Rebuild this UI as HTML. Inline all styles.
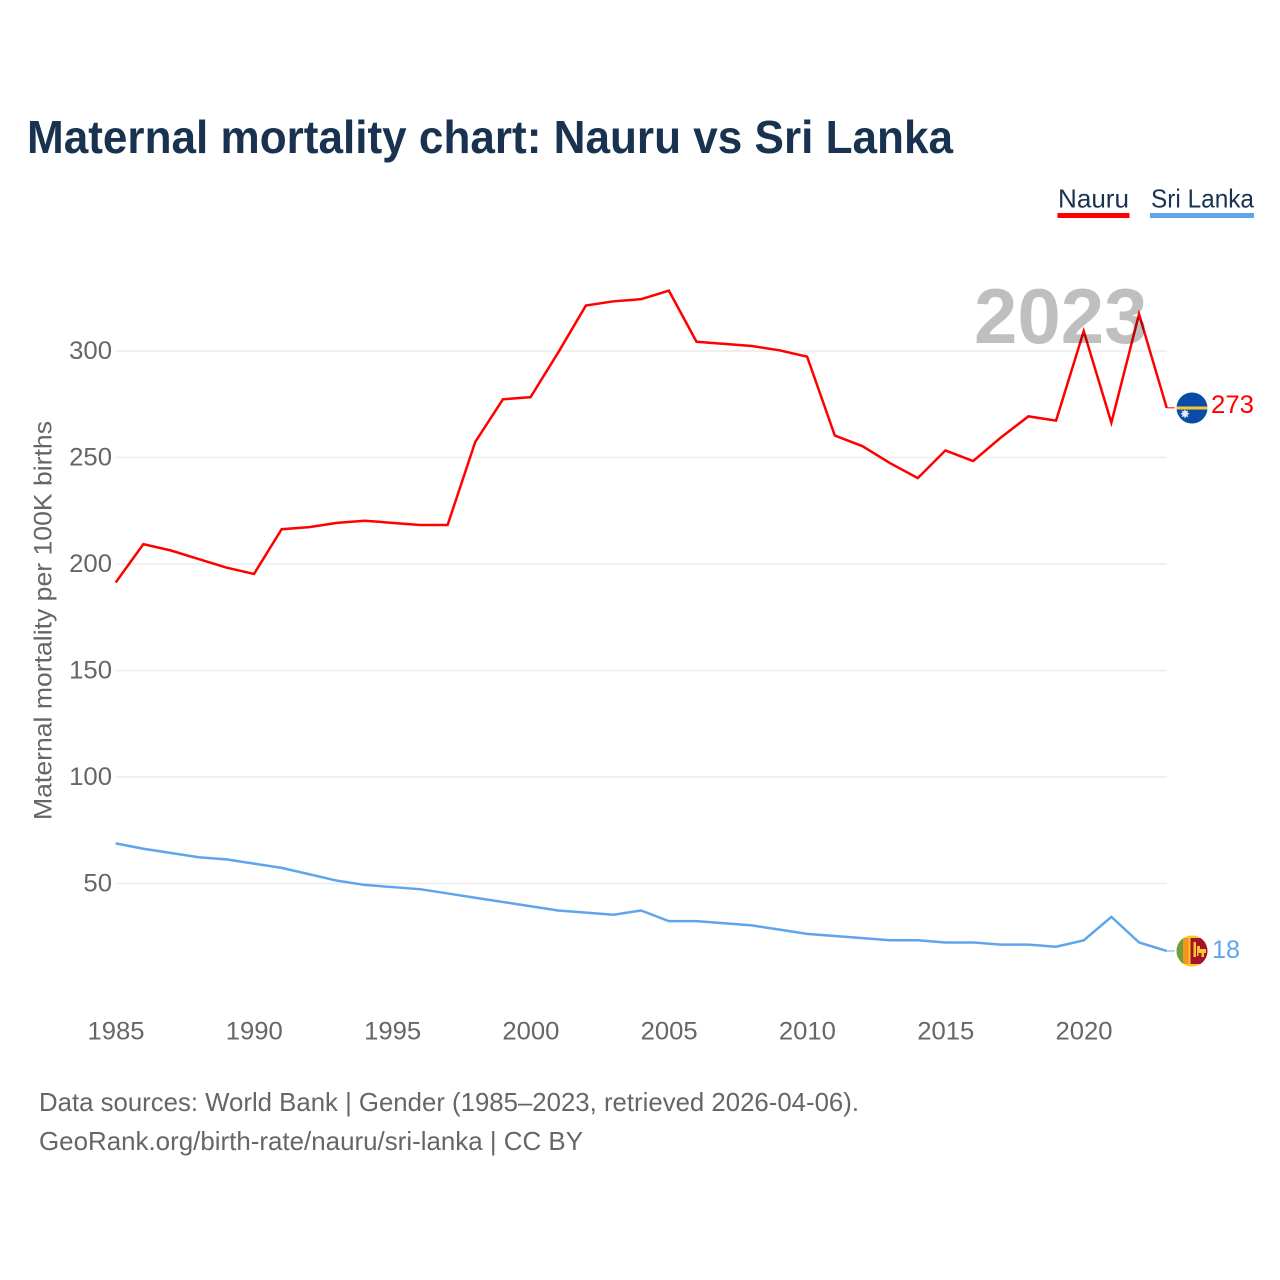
<!DOCTYPE html>
<html lang="en">
<head>
<meta charset="utf-8">
<title>Maternal mortality chart: Nauru vs Sri Lanka</title>
<style>
html,body{margin:0;padding:0;background:#fff;}
svg{display:block;font-family:"Liberation Sans",sans-serif;}
</style>
</head>
<body>
<svg id="chart" xmlns="http://www.w3.org/2000/svg" width="1280" height="1280" viewBox="0 0 1280 1280">
  <defs>
    <clipPath id="nauru-clip"><circle cx="1192" cy="408" r="15.5"/></clipPath>
    <clipPath id="srilanka-clip"><circle cx="1192" cy="951" r="15.5"/></clipPath>
  </defs>
  <rect x="0" y="0" width="1280" height="1280" fill="#fff"/>
  <text x="27" y="153" font-size="46" font-weight="700" fill="#18324f" textLength="926" lengthAdjust="spacingAndGlyphs">Maternal mortality chart: Nauru vs Sri Lanka</text>
  <g>
    <text x="1058" y="207.500" font-size="26" fill="#18324f" textLength="71" lengthAdjust="spacingAndGlyphs">Nauru</text>
    <rect x="1057.500" y="213" width="72" height="5" fill="#ff0000"/>
  </g>
  <g>
    <text x="1151" y="207.500" font-size="26" fill="#18324f" textLength="103" lengthAdjust="spacingAndGlyphs">Sri Lanka</text>
    <rect x="1150" y="213" width="104" height="5" fill="#5ea5ee"/>
  </g>
  <g id="grid"></g>
  <g id="y-ticks"></g>
  <g id="x-ticks"></g>
  <text transform="translate(51.500 820) rotate(-90)" x="0" y="0" font-size="25" fill="#666" textLength="399" lengthAdjust="spacingAndGlyphs">Maternal mortality per 100K births</text>
  <g id="series" transform="translate(-0.3 -0.7)"></g>
  <text x="974" y="343" font-size="78" font-weight="700" fill="#000" fill-opacity="0.25">2023</text>

  <g clip-path="url(#nauru-clip)">
    <rect x="1176" y="392" width="32" height="32" fill="#0a4ba8"/>
    <rect x="1176" y="406.500" width="32" height="3" fill="#f5c830"/>
    <path d="M1185 409l1 2.400 2.400-1-1 2.400 2.400 1-2.400 1 1 2.400-2.400-1-1 2.400-1-2.400-2.400 1 1-2.400-2.400-1 2.400-1-1-2.400 2.400 1z" fill="#e8eef8"/>
  </g>
  <g clip-path="url(#srilanka-clip)">
    <rect x="1176" y="935" width="32" height="32" fill="#f7c52e"/>
    <rect x="1176" y="938" width="7" height="26" fill="#6f9e3a"/>
    <rect x="1183" y="938" width="5.500" height="26" fill="#f7931a"/>
    <rect x="1190.500" y="938" width="17" height="26" fill="#a5122a"/>
    <path d="M1193.500 942h2.500v15h-2.500zM1197 946h3v3h6v4h-2v4h-2.500v-4h-3v3h-1.500z" fill="#f7c52e"/>
  </g>
  <text x="1211" y="413" font-size="25" fill="#ff0000" textLength="43" lengthAdjust="spacingAndGlyphs">273</text>
  <text x="1212" y="958" font-size="25" fill="#5ea5ee" textLength="28" lengthAdjust="spacingAndGlyphs">18</text>

  <text x="39" y="1111" font-size="26" fill="#666" textLength="820" lengthAdjust="spacingAndGlyphs">Data sources: World Bank | Gender (1985–2023, retrieved 2026-04-06).</text>
  <text x="39" y="1150" font-size="26" fill="#666" textLength="544" lengthAdjust="spacingAndGlyphs">GeoRank.org/birth-rate/nauru/sri-lanka | CC BY</text>
</svg>
<script>
const years = [1985,1986,1987,1988,1989,1990,1991,1992,1993,1994,1995,1996,1997,1998,1999,2000,2001,2002,2003,2004,2005,2006,2007,2008,2009,2010,2011,2012,2013,2014,2015,2016,2017,2018,2019,2020,2021,2022,2023];
const nauruValues = [191,209,206,202,198,195,216,217,219,220,219,218,218,257,277,278,299,321,323,324,328,304,303,302,300,297,260,255,247,240,253,248,259,269,267,309,266,317,273];
const sriLankaValues = [68.5,66,64,62,61,59,57,54,51,49,48,47,45,43,41,39,37,36,35,37,32,32,31,30,28,26,25,24,23,23,22,22,21,21,20,23,34,22,18];
const yTickValues = [50,100,150,200,250,300];
const xTickValues = [1985,1990,1995,2000,2005,2010,2015,2020];

const NS = 'http://www.w3.org/2000/svg';
const plotLeft = 116, plotRight = 1167;
function xScale(year) {
  return plotLeft + (year - years[0]) * (plotRight - plotLeft) / (years[years.length - 1] - years[0]);
}
function yScale(value) {
  return 883.5 - (value - 50) * 2.13;
}
function make(tag, attrs, parent, text) {
  const el = document.createElementNS(NS, tag);
  for (const k in attrs) el.setAttribute(k, attrs[k]);
  if (text !== undefined) el.textContent = text;
  parent.appendChild(el);
  return el;
}

const grid = document.getElementById('grid');
const yTicks = document.getElementById('y-ticks');
const xTicks = document.getElementById('x-ticks');
const series = document.getElementById('series');

yTickValues.forEach(function (v) {
  const y = yScale(v);
  const line = make('line', {x1: plotLeft, x2: plotRight, y1: y, y2: y, stroke: '#ececec', 'stroke-width': 1.5}, grid);
  
  
  const label = make('text', {x: 112, y: y + 8, 'font-size': 25, fill: '#666', 'text-anchor': 'end', textLength: String(v).length * 14.3, lengthAdjust: 'spacingAndGlyphs'}, yTicks, String(v));
  
  
});

xTickValues.forEach(function (v) {
  const label = make('text', {x: xScale(v), y: 1039.5, 'font-size': 25, fill: '#666', 'text-anchor': 'middle', textLength: 57, lengthAdjust: 'spacingAndGlyphs'}, xTicks, String(v));
  
  
});

function linePoints(values) {
  return values.map(function (v, i) { return xScale(years[i]).toFixed(2) + ',' + yScale(v).toFixed(2); }).join(' ');
}

const nauruLine = make('polyline', {points: linePoints(nauruValues), fill: 'none', stroke: '#ff0000', 'stroke-width': 2.5, 'stroke-linejoin': 'miter'}, series);



const sriLankaLine = make('polyline', {points: linePoints(sriLankaValues), fill: 'none', stroke: '#5ea5ee', 'stroke-width': 2.5, 'stroke-linejoin': 'miter'}, series);



const nauruLast = yScale(nauruValues[nauruValues.length - 1]);
const nauruLeader = make('line', {x1: plotRight, x2: 1175, y1: nauruLast, y2: nauruLast, stroke: '#ff0000', 'stroke-width': 1}, series);



const sriLast = yScale(sriLankaValues[sriLankaValues.length - 1]);
const sriLeader = make('line', {x1: plotRight, x2: 1175, y1: sriLast, y2: sriLast, stroke: '#5ea5ee', 'stroke-width': 1}, series);


</script>
</body>
</html>
